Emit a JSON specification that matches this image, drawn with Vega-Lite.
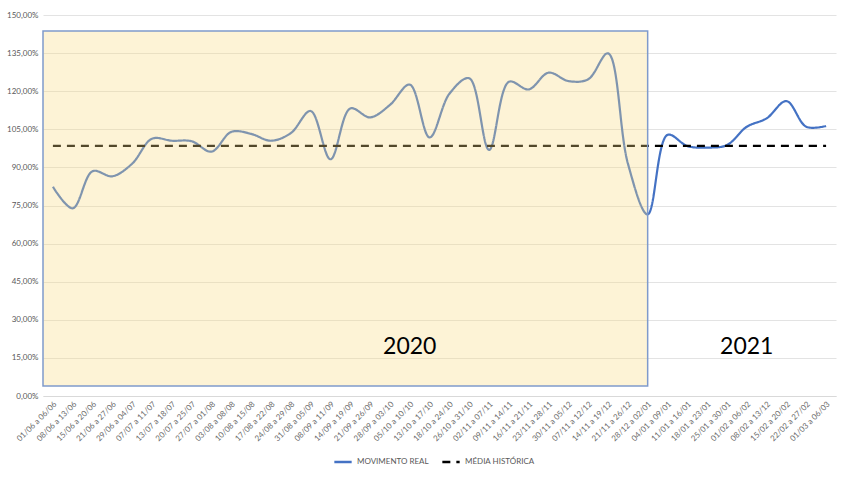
{
  "$schema": "https://vega.github.io/schema/vega-lite/v6.json",
  "width": 793,
  "height": 381,
  "autosize": {"type": "none"},
  "padding": {"left": 43, "top": 15, "right": 14, "bottom": 83},
  "background": "white",
  "config": {
    "locale": {"number": {"decimal": ",", "thousands": ".", "grouping": [3], "currency": ["R$", ""]}},
    "view": {"stroke": null},
    "font": "Lato"
  },
  "datasets": {
    "serie": [
      {"periodo": "01/06 a 06/06", "serie": "MOVIMENTO REAL", "valor": 0.824},
      {"periodo": "08/06 a 13/06", "serie": "MOVIMENTO REAL", "valor": 0.739},
      {"periodo": "15/06 a 20/06", "serie": "MOVIMENTO REAL", "valor": 0.885},
      {"periodo": "21/06 a 27/06", "serie": "MOVIMENTO REAL", "valor": 0.865},
      {"periodo": "29/06 a 04/07", "serie": "MOVIMENTO REAL", "valor": 0.915},
      {"periodo": "07/07 a 11/07", "serie": "MOVIMENTO REAL", "valor": 1.013},
      {"periodo": "13/07 a 18/07", "serie": "MOVIMENTO REAL", "valor": 1.005},
      {"periodo": "20/07 a 25/07", "serie": "MOVIMENTO REAL", "valor": 1.003},
      {"periodo": "27/07 a 01/08", "serie": "MOVIMENTO REAL", "valor": 0.962},
      {"periodo": "03/08 a 08/08", "serie": "MOVIMENTO REAL", "valor": 1.040},
      {"periodo": "10/08 a 15/08", "serie": "MOVIMENTO REAL", "valor": 1.032},
      {"periodo": "17/08 a 22/08", "serie": "MOVIMENTO REAL", "valor": 1.005},
      {"periodo": "24/08 a 29/08", "serie": "MOVIMENTO REAL", "valor": 1.035},
      {"periodo": "31/08 a 05/09", "serie": "MOVIMENTO REAL", "valor": 1.122},
      {"periodo": "08/09 a 11/09", "serie": "MOVIMENTO REAL", "valor": 0.932},
      {"periodo": "14/09 a 19/09", "serie": "MOVIMENTO REAL", "valor": 1.132},
      {"periodo": "21/09 a 26/09", "serie": "MOVIMENTO REAL", "valor": 1.097},
      {"periodo": "28/09 a 03/10", "serie": "MOVIMENTO REAL", "valor": 1.146},
      {"periodo": "05/10 a 10/10", "serie": "MOVIMENTO REAL", "valor": 1.226},
      {"periodo": "13/10 a 17/10", "serie": "MOVIMENTO REAL", "valor": 1.018},
      {"periodo": "18/10 a 24/10", "serie": "MOVIMENTO REAL", "valor": 1.190},
      {"periodo": "26/10 a 31/10", "serie": "MOVIMENTO REAL", "valor": 1.251},
      {"periodo": "02/11 a 07/11", "serie": "MOVIMENTO REAL", "valor": 0.969},
      {"periodo": "09/11 a 14/11", "serie": "MOVIMENTO REAL", "valor": 1.237},
      {"periodo": "16/11 a 21/11", "serie": "MOVIMENTO REAL", "valor": 1.207},
      {"periodo": "23/11 a 28/11", "serie": "MOVIMENTO REAL", "valor": 1.273},
      {"periodo": "30/11 a 05/12", "serie": "MOVIMENTO REAL", "valor": 1.240},
      {"periodo": "07/11 a 12/12", "serie": "MOVIMENTO REAL", "valor": 1.247},
      {"periodo": "14/11 a 19/12", "serie": "MOVIMENTO REAL", "valor": 1.349},
      {"periodo": "21/11 a 26/12", "serie": "MOVIMENTO REAL", "valor": 0.916},
      {"periodo": "28/12 a 02/01", "serie": "MOVIMENTO REAL", "valor": 0.715},
      {"periodo": "04/01 a 09/01", "serie": "MOVIMENTO REAL", "valor": 1.028},
      {"periodo": "11/01 a 16/01", "serie": "MOVIMENTO REAL", "valor": 0.984},
      {"periodo": "18/01 a 23/01", "serie": "MOVIMENTO REAL", "valor": 0.978},
      {"periodo": "25/01 a 30/01", "serie": "MOVIMENTO REAL", "valor": 0.988},
      {"periodo": "01/02 a 06/02", "serie": "MOVIMENTO REAL", "valor": 1.060},
      {"periodo": "08/02 a 13/12", "serie": "MOVIMENTO REAL", "valor": 1.093},
      {"periodo": "15/02 a 20/02", "serie": "MOVIMENTO REAL", "valor": 1.161},
      {"periodo": "22/02 a 27/02", "serie": "MOVIMENTO REAL", "valor": 1.060},
      {"periodo": "01/03 a 06/03", "serie": "MOVIMENTO REAL", "valor": 1.063},
      {"periodo": "01/06 a 06/06", "serie": "MÉDIA HISTÓRICA", "valor": 0.985},
      {"periodo": "08/06 a 13/06", "serie": "MÉDIA HISTÓRICA", "valor": 0.985},
      {"periodo": "15/06 a 20/06", "serie": "MÉDIA HISTÓRICA", "valor": 0.985},
      {"periodo": "21/06 a 27/06", "serie": "MÉDIA HISTÓRICA", "valor": 0.985},
      {"periodo": "29/06 a 04/07", "serie": "MÉDIA HISTÓRICA", "valor": 0.985},
      {"periodo": "07/07 a 11/07", "serie": "MÉDIA HISTÓRICA", "valor": 0.985},
      {"periodo": "13/07 a 18/07", "serie": "MÉDIA HISTÓRICA", "valor": 0.985},
      {"periodo": "20/07 a 25/07", "serie": "MÉDIA HISTÓRICA", "valor": 0.985},
      {"periodo": "27/07 a 01/08", "serie": "MÉDIA HISTÓRICA", "valor": 0.985},
      {"periodo": "03/08 a 08/08", "serie": "MÉDIA HISTÓRICA", "valor": 0.985},
      {"periodo": "10/08 a 15/08", "serie": "MÉDIA HISTÓRICA", "valor": 0.985},
      {"periodo": "17/08 a 22/08", "serie": "MÉDIA HISTÓRICA", "valor": 0.985},
      {"periodo": "24/08 a 29/08", "serie": "MÉDIA HISTÓRICA", "valor": 0.985},
      {"periodo": "31/08 a 05/09", "serie": "MÉDIA HISTÓRICA", "valor": 0.985},
      {"periodo": "08/09 a 11/09", "serie": "MÉDIA HISTÓRICA", "valor": 0.985},
      {"periodo": "14/09 a 19/09", "serie": "MÉDIA HISTÓRICA", "valor": 0.985},
      {"periodo": "21/09 a 26/09", "serie": "MÉDIA HISTÓRICA", "valor": 0.985},
      {"periodo": "28/09 a 03/10", "serie": "MÉDIA HISTÓRICA", "valor": 0.985},
      {"periodo": "05/10 a 10/10", "serie": "MÉDIA HISTÓRICA", "valor": 0.985},
      {"periodo": "13/10 a 17/10", "serie": "MÉDIA HISTÓRICA", "valor": 0.985},
      {"periodo": "18/10 a 24/10", "serie": "MÉDIA HISTÓRICA", "valor": 0.985},
      {"periodo": "26/10 a 31/10", "serie": "MÉDIA HISTÓRICA", "valor": 0.985},
      {"periodo": "02/11 a 07/11", "serie": "MÉDIA HISTÓRICA", "valor": 0.985},
      {"periodo": "09/11 a 14/11", "serie": "MÉDIA HISTÓRICA", "valor": 0.985},
      {"periodo": "16/11 a 21/11", "serie": "MÉDIA HISTÓRICA", "valor": 0.985},
      {"periodo": "23/11 a 28/11", "serie": "MÉDIA HISTÓRICA", "valor": 0.985},
      {"periodo": "30/11 a 05/12", "serie": "MÉDIA HISTÓRICA", "valor": 0.985},
      {"periodo": "07/11 a 12/12", "serie": "MÉDIA HISTÓRICA", "valor": 0.985},
      {"periodo": "14/11 a 19/12", "serie": "MÉDIA HISTÓRICA", "valor": 0.985},
      {"periodo": "21/11 a 26/12", "serie": "MÉDIA HISTÓRICA", "valor": 0.985},
      {"periodo": "28/12 a 02/01", "serie": "MÉDIA HISTÓRICA", "valor": 0.985},
      {"periodo": "04/01 a 09/01", "serie": "MÉDIA HISTÓRICA", "valor": 0.985},
      {"periodo": "11/01 a 16/01", "serie": "MÉDIA HISTÓRICA", "valor": 0.985},
      {"periodo": "18/01 a 23/01", "serie": "MÉDIA HISTÓRICA", "valor": 0.985},
      {"periodo": "25/01 a 30/01", "serie": "MÉDIA HISTÓRICA", "valor": 0.985},
      {"periodo": "01/02 a 06/02", "serie": "MÉDIA HISTÓRICA", "valor": 0.985},
      {"periodo": "08/02 a 13/12", "serie": "MÉDIA HISTÓRICA", "valor": 0.985},
      {"periodo": "15/02 a 20/02", "serie": "MÉDIA HISTÓRICA", "valor": 0.985},
      {"periodo": "22/02 a 27/02", "serie": "MÉDIA HISTÓRICA", "valor": 0.985},
      {"periodo": "01/03 a 06/03", "serie": "MÉDIA HISTÓRICA", "valor": 0.985}
    ],
    "anos": [
      {"ano": "2020", "inicio": "01/06 a 06/06", "fim": "28/12 a 02/01", "rotulo": "05/10 a 10/10", "topo": 1.437, "base": 0.039, "ytexto": 0.193},
      {"ano": "2021", "rotulo": "01/02 a 06/02", "ytexto": 0.193}
    ]
  },
  "layer": [
    {
      "data": {"name": "serie"},
      "mark": {"type": "line", "interpolate": "catmull-rom", "strokeWidth": 2.2},
      "encoding": {
        "x": {
          "field": "periodo", "type": "nominal", "sort": null,
          "scale": {"type": "band", "paddingInner": 0, "paddingOuter": 0},
          "axis": {"title": null, "labelAngle": -45, "labelFontSize": 8, "labelColor": "#6b6b6b", "ticks": false, "domainColor": "#d9d9d9", "domainWidth": 1, "labelPadding": 4, "grid": false, "labelOverlap": false}
        },
        "y": {
          "field": "valor", "type": "quantitative",
          "scale": {"domain": [0, 1.5], "nice": false, "zero": true},
          "axis": {"title": null, "format": ".2%", "values": [0, 0.15, 0.3, 0.45, 0.6, 0.75, 0.9, 1.05, 1.2, 1.35, 1.5], "tickCount": 20, "labelFontSize": 8, "labelColor": "#595959", "domain": false, "ticks": false, "gridColor": "#e3e3e3", "gridWidth": 1, "labelPadding": 5, "labelOverlap": false, "labelFlush": false}
        },
        "color": {
          "field": "serie", "type": "nominal",
          "scale": {"domain": ["MOVIMENTO REAL", "MÉDIA HISTÓRICA"], "range": ["#4472c4", "#000000"]},
          "legend": {"title": null, "orient": "none", "legendX": 290, "legendY": 437, "direction": "horizontal", "labelFontSize": 8, "labelColor": "#595959", "symbolType": "stroke", "symbolStrokeWidth": 2.5, "symbolSize": 300, "columnPadding": 8}
        },
        "strokeDash": {
          "field": "serie", "type": "nominal",
          "scale": {"domain": ["MOVIMENTO REAL", "MÉDIA HISTÓRICA"], "range": [[1, 0], [8, 6]]},
          "legend": {"title": null, "orient": "none", "legendX": 290, "legendY": 437, "direction": "horizontal", "labelFontSize": 8, "labelColor": "#595959", "symbolType": "stroke", "symbolStrokeWidth": 2.5, "symbolSize": 300, "columnPadding": 8}
        }
      }
    },
    {
      "data": {"name": "anos"},
      "transform": [{"filter": "datum.ano === '2020'"}],
      "mark": {"type": "rect", "fill": "#fada82", "fillOpacity": 0.33, "stroke": "#7f9acb", "strokeOpacity": 1, "strokeWidth": 1.5},
      "encoding": {
        "x": {"field": "inicio", "type": "nominal", "sort": null, "bandPosition": 0},
        "x2": {"field": "fim"},
        "y": {"field": "topo", "type": "quantitative"},
        "y2": {"field": "base"}
      }
    },
    {
      "data": {"name": "anos"},
      "mark": {"type": "text", "fontSize": 23, "color": "#000000", "baseline": "middle", "align": "center", "font": "Lato"},
      "encoding": {
        "x": {"field": "rotulo", "type": "nominal", "sort": null},
        "y": {"field": "ytexto", "type": "quantitative"},
        "text": {"field": "ano"}
      }
    }
  ]
}
